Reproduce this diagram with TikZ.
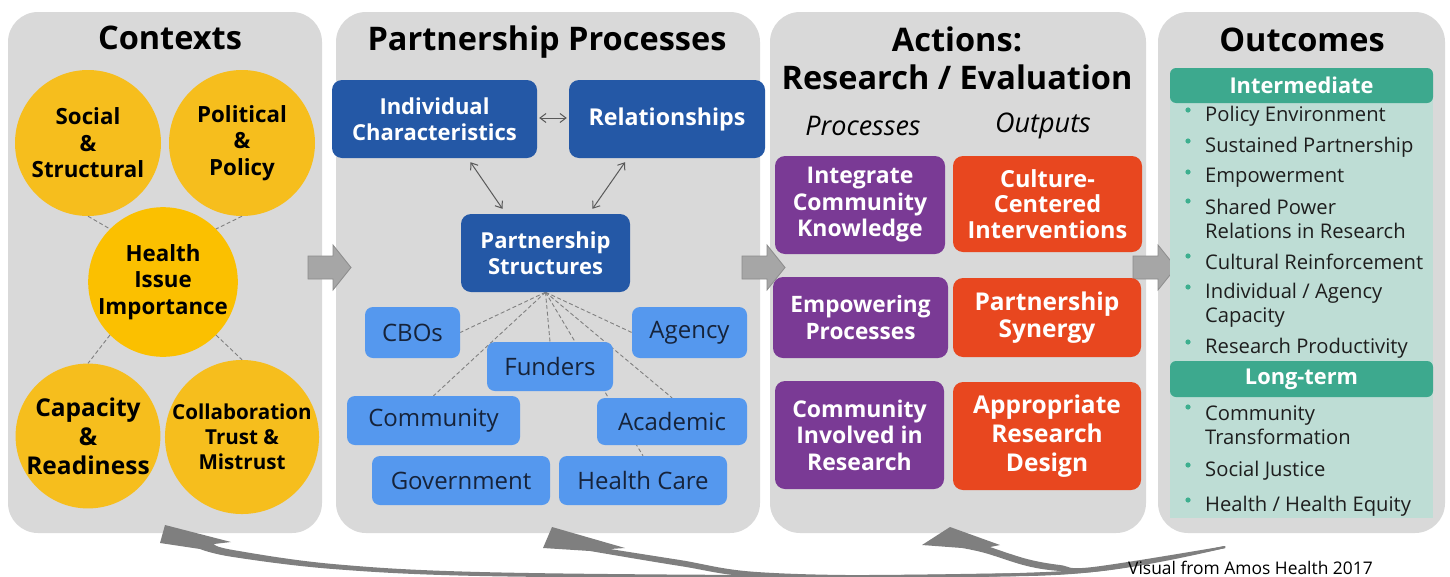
\documentclass[tikz,border=0pt]{standalone}
\usepackage{fontspec}
\setmainfont{Open Sans}
\usetikzlibrary{arrows.meta,calc}
\definecolor{panelgray}{HTML}{D9D9D9}
\definecolor{gold}{HTML}{F6BE1D}
\definecolor{goldc}{HTML}{FBC000}
\definecolor{dblue}{HTML}{2458A6}
\definecolor{lblue}{HTML}{5598EE}
\definecolor{navy}{HTML}{16233A}
\definecolor{purp}{HTML}{7A3A95}
\definecolor{orng}{HTML}{E8471F}
\definecolor{tealh}{HTML}{3DA98E}
\definecolor{teall}{HTML}{BEDDD5}
\definecolor{tealdot}{HTML}{3DAF8F}
\definecolor{arrowgray}{HTML}{A6A6A6}
\definecolor{arrowedge}{HTML}{8C8C8C}
\definecolor{curvegray}{HTML}{7F7F7F}
\definecolor{txt}{HTML}{1E1E1E}
\pgfdeclarelayer{back}
\pgfdeclarelayer{mid}
\pgfsetlayers{back,mid,main}
\newcommand\fsz[2]{\fontsize{#1}{#2}\selectfont}
\begin{document}
\begin{tikzpicture}[x=1pt,y=-1pt,
  panel/.style={rectangle, fill=panelgray, rounded corners=30pt, inner sep=0pt},
  ptitle/.style={font=\bfseries\fsz{32.5}{38}, text=black, align=center, inner sep=0pt},
  circ/.style={circle, fill=gold, inner sep=0pt, align=center, text=black, font=\bfseries\fsz{22.3}{26.5}},
  dbox/.style={rectangle, rounded corners=10pt, fill=dblue, text=white, align=center, inner sep=0pt, font=\bfseries\fsz{22}{26}},
  lbox/.style={rectangle, rounded corners=8pt, fill=lblue, text=navy, inner sep=0pt, font=\fsz{24}{28}},
  pbox/.style={rectangle, rounded corners=10pt, fill=purp, text=white, align=center, inner sep=0pt, font=\bfseries\fsz{23}{26.5}},
  obox/.style={rectangle, rounded corners=10pt, fill=orng, text=white, align=center, inner sep=0pt, font=\bfseries\fsz{23.5}{25.5}},
  thead/.style={rectangle, rounded corners=6pt, fill=tealh, text=white, inner sep=0pt, font=\bfseries\fsz{21.8}{24}},
  item/.style={anchor=west, align=left, text=txt, inner sep=0pt, font=\fsz{20.2}{24}},
  dline/.style={draw=gray, dash pattern=on 4pt off 2.5pt, line width=0.9pt},
  dbl/.style={draw=black!65, line width=1pt, {Straight Barb[length=6pt,width=9pt]}-{Straight Barb[length=6pt,width=9pt]}},
  blk/.style={fill=arrowgray, draw=arrowedge, line width=0.8pt}
]
\useasboundingbox (0,0) rectangle (1450,576);
\clip (0,0) rectangle (1450,576);

% ---------------- panels
\begin{pgfonlayer}{back}
\node[panel, minimum width=314pt, minimum height=521pt] (P1) at (165,272.5) {};
\node[panel, minimum width=424pt, minimum height=521pt] (P2) at (548,272.5) {};
\node[panel, minimum width=376pt, minimum height=521pt] (P3) at (958,272.5) {};
\node[panel, minimum width=287pt, minimum height=521pt] (P4) at (1301.5,272.5) {};
\end{pgfonlayer}

% ---------------- block arrows between panels
\foreach \xx in {308,742,1133}{
  \begin{scope}[shift={(\xx,0)}]
    \filldraw[blk] (0,256) -- (25,256) -- (25,245) -- (43,267.5) -- (25,290) -- (25,279) -- (0,279) -- cycle;
  \end{scope}
}

% ---------------- titles
\node[ptitle] (t1) at (170,38) {Contexts};
\node[ptitle] (t2) at (547,42) {Partnership Processes};
\node[ptitle] (t3) at (957,39) {Actions:};
\node[ptitle] (t3b) at (957,77) {Research / Evaluation};
\node[ptitle] (t4) at (1302,40) {Outcomes};

% ---------------- contexts circles
\node[circ, minimum size=146pt] (soc) at (88,143) {Social\\\&\\Structural};
\node[circ, minimum size=146pt] (pol) at (242,143) {Political\\\&\\Policy};
\node[circ, minimum size=142pt, fill=goldc] (hea) at (163,282) {Health\\Issue\\Importance};
\node[circ, minimum size=144pt, font=\bfseries\fsz{24.5}{29}] (cap) at (88,436) {Capacity\\\&\\Readiness};
\node[circ, minimum size=144pt, font=\bfseries\fsz{20.6}{25}] (col) at (242,437) {Collaboration\\Trust \&\\Mistrust};
\draw[dline] (soc.south) -- (hea.north west);
\draw[dline] (pol.south) -- (hea.north east);
\draw[dline] (hea.south west) -- (cap.north);
\draw[dline] (hea.south east) -- (col.north);

% ---------------- partnership processes
\node[dbox, minimum width=205pt, minimum height=78pt] (ic) at (434.5,119) {Individual\\Characteristics};
\node[dbox, minimum width=196pt, minimum height=78pt, font=\bfseries\fsz{23.2}{26}] (rel) at (667,119) {Relationships};
\node[dbox, minimum width=169pt, minimum height=78pt] (ps) at (545.5,253) {Partnership\\Structures};
\node[lbox, minimum width=95pt, minimum height=51pt] (cbo) at (412.5,332.5) {CBOs};
\node[lbox, minimum width=115pt, minimum height=51pt] (agy) at (689.5,332.5) {Agency};
\node[lbox, minimum width=126pt, minimum height=49pt] (fun) at (550,366.5) {Funders};
\node[lbox, minimum width=173pt, minimum height=49pt] (com) at (433.5,420.5) {Community};
\node[lbox, minimum width=150pt, minimum height=47pt] (aca) at (672,421.5) {Academic};
\node[lbox, minimum width=178pt, minimum height=49pt] (gov) at (461,480.5) {Government};
\node[lbox, minimum width=168pt, minimum height=49pt] (hc) at (643,480.5) {Health Care};

\begin{pgfonlayer}{mid}
\draw[dline] (ps.south) -- (cbo.east);
\draw[dline] (ps.south) -- (com.north);
\draw[dline] (ps.south) -- (fun.north);
\draw[dline] (ps.south) -- (hc.north);
\draw[dline] (ps.south) -- (aca.north);
\draw[dline] (ps.south) -- (agy.west);
\end{pgfonlayer}

\draw[dbl] ($(ic.east)+(2,-1)$) -- ($(rel.west)+(-2,-1)$);
\draw[dbl] ($(ic.south)+(36,4)$) -- ($(ps.north)+(-43,-5)$);
\draw[dbl] ($(rel.south)+(-42,4)$) -- ($(ps.north)+(47,-5)$);

% ---------------- actions
\node[font=\itshape\fsz{27}{30}, inner sep=0pt] (proc) at (863,126) {Processes};
\node[font=\itshape\fsz{27}{30}, inner sep=0pt] (outp) at (1043,126) {Outputs};
\node[pbox, minimum width=170pt, minimum height=98pt] (ick) at (860,205) {Integrate\\Community\\Knowledge};
\node[pbox, minimum width=175pt, minimum height=81pt, font=\bfseries\fsz{22.6}{27}] (emp) at (860.5,317.5) {Empowering\\Processes};
\node[pbox, minimum width=169pt, minimum height=108pt] (cir) at (859.5,435) {Community\\Involved in\\Research};
\node[obox, minimum width=189pt, minimum height=96pt] (cci) at (1047.5,204) {Culture-\\Centered\\Interventions};
\node[obox, minimum width=188pt, minimum height=79pt, font=\bfseries\fsz{24.5}{27}] (psy) at (1047,317.5) {Partnership\\Synergy};
\node[obox, minimum width=188pt, minimum height=108pt, font=\bfseries\fsz{24.5}{29}] (ard) at (1047,436) {Appropriate\\Research\\Design};

% ---------------- outcomes
\fill[teall] (1170,95) rectangle (1433,518);
\node[thead, minimum width=263pt, minimum height=35pt] (ih) at (1301.5,85.5) {Intermediate};
\node[thead, minimum width=263pt, minimum height=36pt] (lh) at (1301.5,379) {Long-term};

\foreach \yy/\dy/\nm/\tx in {
  116/116/o1/{Policy Environment},
  147/147/o2/{Sustained Partnership},
  178/178/o3/{Empowerment},
  219/207/o4/{Shared Power\\Relations in Research},
  262/262/o5/{Cultural Reinforcement},
  305/293/o6/{Individual / Agency\\Capacity},
  348/348/o7/{Research Productivity},
  425.5/413/o8/{Community\\Transformation},
  471/471/o9/{Social Justice},
  506/506/o10/{Health / Health Equity}}{
  \node[item] (\nm) at (1205,\yy) {\tx};
  \fill[tealdot] (1188,\dy-6) circle (2.6pt);
}

% ---------------- bottom feedback arrows
\fill[curvegray] (165,525) -- (231,542) -- (214,544)
  -- plot[smooth, tension=0.6] coordinates {(214,544) (233,550) (333,564) (480,572) (757,575) (960,574) (1093,569) (1225,546)}
  -- plot[smooth, tension=0.6] coordinates {(1225,548) (1093,572) (960,577) (757,578) (480,576) (333,569) (233,557) (200,549)}
  -- (160,543) -- cycle;
\fill[curvegray] (552,527) -- (625,548) -- (610,549)
  -- plot[smooth, tension=0.6] coordinates {(610,549) (680,560) (757,572) (900,575) (1093,569) (1225,546)}
  -- plot[smooth, tension=0.6] coordinates {(1225,548) (1093,572) (900,578) (757,577) (680,566) (590,551)}
  -- (543,548) -- cycle;
\fill[curvegray] (950,527) -- (1000,545) -- (990,547)
  -- plot[smooth, tension=0.6] coordinates {(990,547) (1027,559) (1060,565) (1093,567) (1225,546)}
  -- plot[smooth, tension=0.6] coordinates {(1225,548) (1093,571) (1060,571) (1027,566) (985,553) (962,548)}
  -- (922,545) -- cycle;

\node[anchor=base west, inner sep=0pt, font=\fsz{17.4}{20}, text=black] (src) at (1128,574) {Visual from Amos Health 2017};
\end{tikzpicture}
\end{document}
